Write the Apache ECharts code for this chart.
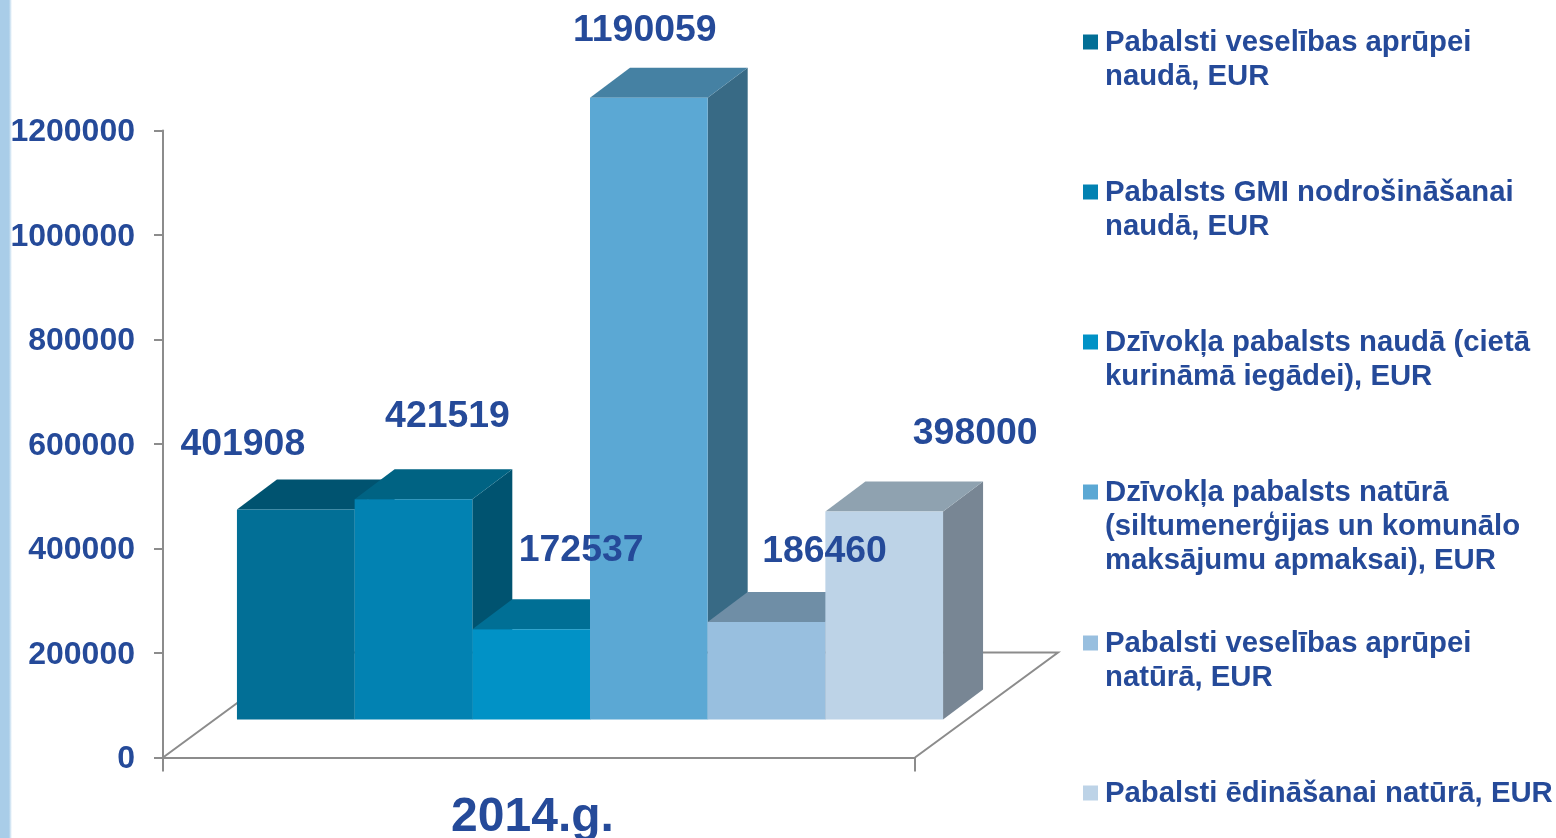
<!DOCTYPE html>
<html>
<head>
<meta charset="utf-8">
<style>
  html, body { margin: 0; padding: 0; background: #fff; }
  #main { width: 1556px; height: 838px; }
</style>
<script src="https://cdn.jsdelivr.net/npm/echarts@6/dist/echarts.min.js"></script>
</head>
<body>
<div id="main"></div>
<script>
const categories = ['2014.g.']
const seriesNames = [
  'Pabalsti veselības aprūpei\nnaudā, EUR',
  'Pabalsts GMI nodrošināšanai\nnaudā, EUR',
  'Dzīvokļa pabalsts naudā (cietā\nkurināmā iegādei), EUR',
  'Dzīvokļa pabalsts natūrā\n(siltumenerģijas un komunālo\nmaksājumu apmaksai), EUR',
  'Pabalsti veselības aprūpei\nnatūrā, EUR',
  'Pabalsti ēdināšanai natūrā, EUR'
]
const seriesValues = [401908, 421519, 172537, 1190059, 186460, 398000]

const frontColors = ['#026f96', '#0282b2', '#0192c6', '#5ba8d4', '#98bfdf', '#bdd3e7']
const topColors = ['#005370', '#006383', '#006f95', '#4581a3', '#6f8ea6', '#8fa2b0']
const sideColors = ['#00526f', '#005370', '#005f80', '#386a85', '#5f7d94', '#788694']

// where each value label sits relative to the middle of its bar's front top edge
const labelOffsets = [[-53, -65], [34, -83], [50, -79], [-4, -67], [58, -70], [91, -78]]

const textColor = '#254a99'
const lineColor = '#8c8c8c'
const fontFamily = '"Liberation Sans", Arial, sans-serif'

// fake 3D: floor depth and the depth of the bars themselves, in pixels
const floorDepth = [143, -105]
const barDepth = [40, -30]
const barLift = 38
const barShift = 51
const barCount = seriesValues.length
const barsPerBand = 6.39

function poly(points, fill, z2) {
  return { type: 'polygon', z2, shape: { points }, style: { fill } }
}

function renderBar(params, api) {
  const i = params.seriesIndex - 1
  const band = api.size([1, 0])[0]
  const w = band / barsPerBand
  const mid = api.coord([0, 0])
  const left = mid[0] + barShift + (i - barCount / 2) * w
  const right = left + w
  const bottom = mid[1] - barLift
  const top = api.coord([0, api.value(1)])[1] - barLift
  const dx = barDepth[0]
  const dy = barDepth[1]
  return {
    type: 'group',
    children: [
      poly([[right, top], [right + dx, top + dy], [right + dx, bottom + dy], [right, bottom]], sideColors[i], 1),
      poly([[left, top], [right, top], [right + dx, top + dy], [left + dx, top + dy]], topColors[i], 2),
      poly([[left, top], [right, top], [right, bottom], [left, bottom]], frontColors[i], 3)
    ]
  }
}

function renderFloor(params, api) {
  const band = api.size([1, 0])[0]
  const mid = api.coord([0, 0])
  const x0 = mid[0] - band / 2
  const x1 = mid[0] + band / 2
  const y = mid[1]
  return {
    type: 'polyline',
    shape: {
      points: [
        [x0, y],
        [x0 + floorDepth[0], y + floorDepth[1]],
        [x1 + floorDepth[0], y + floorDepth[1]],
        [x1, y]
      ]
    },
    style: { fill: 'none', stroke: lineColor, lineWidth: 2 }
  }
}

function renderLabel(params, api) {
  const i = params.dataIndex
  const band = api.size([1, 0])[0]
  const w = band / barsPerBand
  const mid = api.coord([0, 0])
  const left = mid[0] + barShift + (i - barCount / 2) * w
  const top = api.coord([0, api.value(1)])[1] - barLift
  const off = labelOffsets[i]
  return {
    type: 'text',
    style: {
      x: left + w / 2 + off[0],
      y: top + off[1],
      text: String(api.value(1)),
      fill: textColor,
      font: 'bold 37.4px ' + fontFamily,
      align: 'center',
      verticalAlign: 'middle'
    }
  }
}

const barSeries = seriesNames.map((name, i) => ({
  name,
  type: 'custom',
  renderItem: renderBar,
  clip: false,
  z: 3 + i,
  itemStyle: { color: frontColors[i] },
  data: [[0, seriesValues[i]]]
}))

// one legend per series: the texts have different line counts but the markers are evenly spaced
const legendCentres = [43, 193, 343, 493, 644, 794]
const lineHeight = 34
const legends = seriesNames.map((name, i) => {
  const lines = name.split('\n').length
  return {
    data: [name],
    orient: 'vertical',
    left: 1083,
    top: legendCentres[i] - lineHeight * (2 * lines - 1) / 2,
    padding: 0,
    itemWidth: 17,
    itemHeight: 17,
    selectedMode: false,
    // the lone moveTo grows the marker's box: text starts 2px further right and sits 1px lower
    icon: 'path://M0 0H15V15H0Z M17 17',
    // blank lines in front put the first text line level with the marker
    formatter: n => '\n'.repeat(lines - 1) + n,
    textStyle: {
      color: textColor,
      fontFamily,
      fontWeight: 'bold',
      fontSize: 29.3,
      lineHeight
    }
  }
})

const chart = echarts.init(document.getElementById('main'))
chart.setOption({
  animation: false,
  backgroundColor: '#fff',
  grid: { left: 163, top: 130.5, width: 752, height: 627, outerBoundsMode: 'none' },
  xAxis: {
    type: 'category',
    data: categories,
    axisLine: { lineStyle: { color: lineColor, width: 2 } },
    axisTick: { show: true, length: 14, lineStyle: { color: lineColor, width: 2 } },
    axisLabel: {
      color: textColor,
      fontFamily,
      fontWeight: 'bold',
      fontSize: 48,
      margin: 36,
      padding: [0, 13, 0, 0]
    }
  },
  yAxis: {
    type: 'value',
    min: 0,
    max: 1200000,
    interval: 200000,
    splitLine: { show: false },
    axisLine: { show: true, lineStyle: { color: lineColor, width: 2 } },
    axisTick: { show: true, length: 9, lineStyle: { color: lineColor, width: 2 } },
    axisLabel: {
      color: textColor,
      fontFamily,
      fontWeight: 'bold',
      fontSize: 32,
      margin: 28,
      // top-aligned with a tiny line height: drops the labels 2px below their ticks
      verticalAlign: 'top',
      lineHeight: 4,
      formatter: v => String(v)
    }
  },
  legend: legends,
  graphic: [{
    type: 'rect',
    left: 0,
    top: 0,
    shape: { width: 12, height: 838 },
    style: {
      fill: new echarts.graphic.LinearGradient(0, 0, 1, 0, [
        { offset: 0, color: '#a9cde8' },
        { offset: 0.75, color: '#a9cde8' },
        { offset: 1, color: '#ffffff' }
      ])
    }
  }],
  series: [
    { name: 'floor', type: 'custom', renderItem: renderFloor, clip: false, z: 1, silent: true, data: [[0, 0]] },
    ...barSeries,
    {
      name: 'labels',
      type: 'custom',
      renderItem: renderLabel,
      clip: false,
      z: 20,
      silent: true,
      data: seriesValues.map(v => [0, v])
    }
  ]
})
</script>
</body>
</html>
